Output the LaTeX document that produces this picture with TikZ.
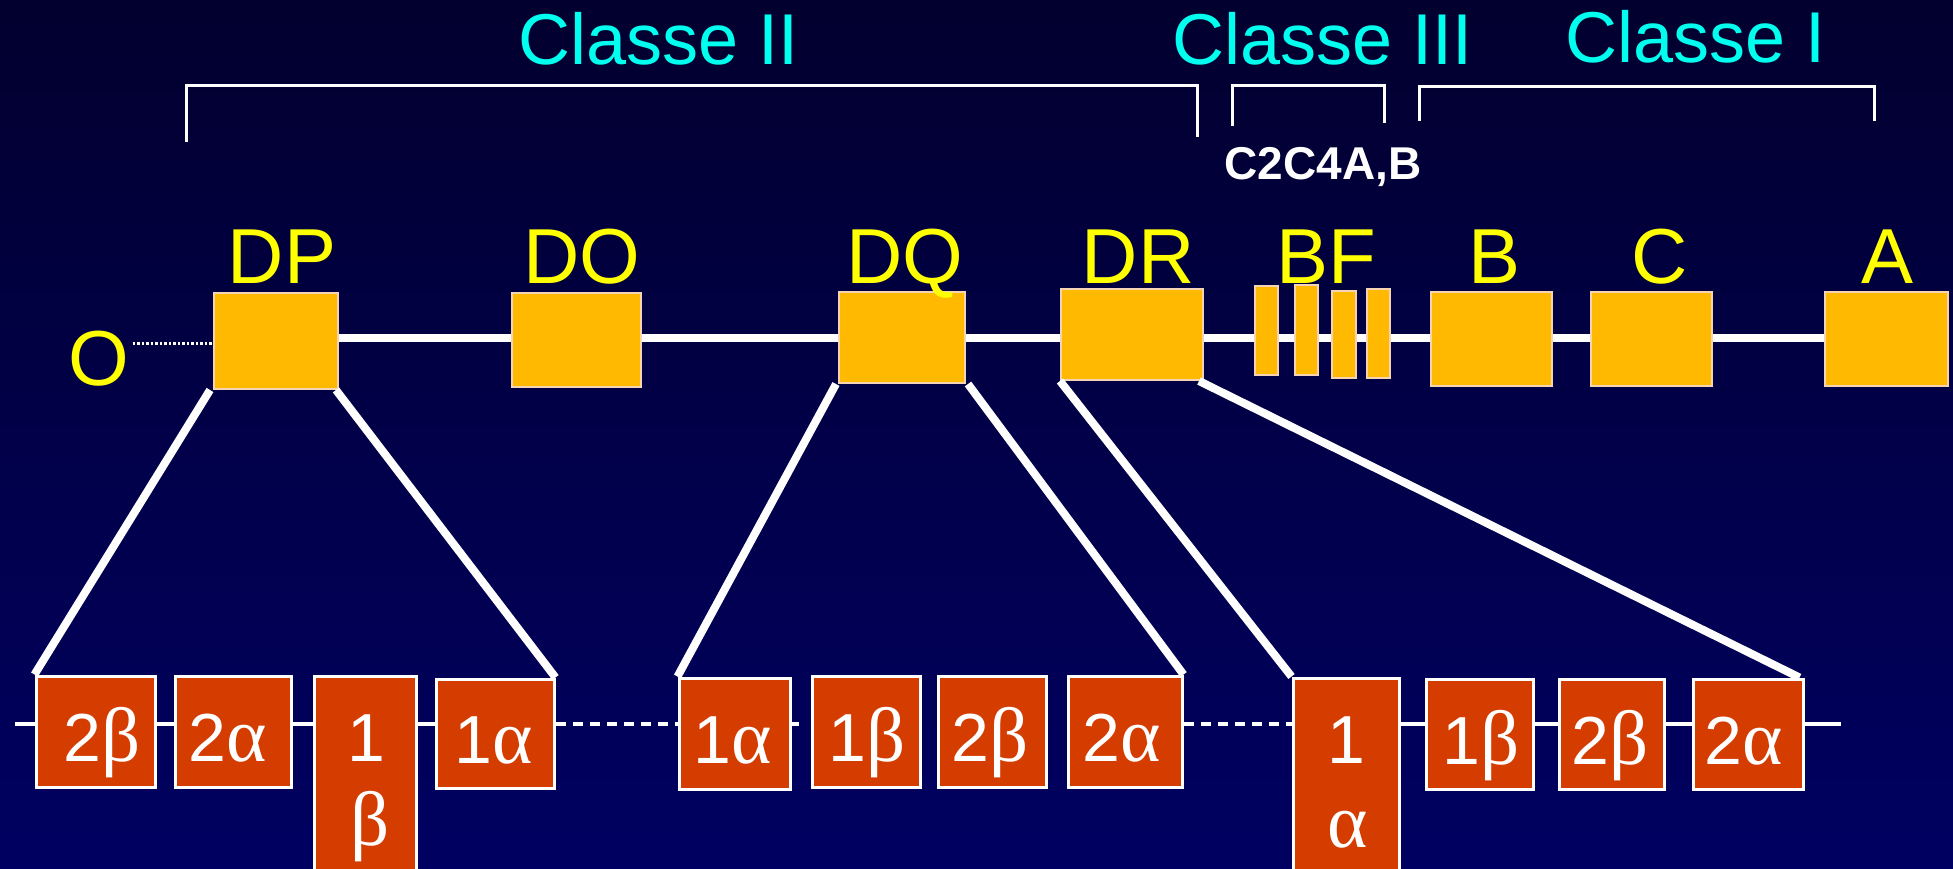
\documentclass[tikz,border=0pt]{standalone}
\usepackage{fontspec}
\setmainfont{Liberation Sans}
\newfontfamily\grkfont{Liberation Serif}
\definecolor{bgtop}{RGB}{2,0,46}
\definecolor{bgbot}{RGB}{0,0,98}
\definecolor{exony}{RGB}{255,185,0}
\definecolor{exonyb}{RGB}{245,212,180}
\definecolor{exonr}{RGB}{212,60,0}
\definecolor{classc}{RGB}{0,255,238}
\definecolor{laby}{RGB}{255,255,0}
\newcommand\GrB{{\grkfont\fontsize{77}{80}\selectfont β}}
\newcommand\GrA{{\grkfont\fontsize{77}{80}\selectfont α}}
\pgfdeclarelayer{back}
\pgfdeclarelayer{lines}
\pgfsetlayers{back,lines,main}
\begin{document}
\begin{tikzpicture}[x=1pt,y=-1pt,
  ybox/.style n args={2}{draw=exonyb,fill=exony,line width=2pt,inner sep=0pt,minimum width=#1,minimum height=#2},
  rbox/.style n args={2}{draw=white,fill=exonr,line width=3pt,inner sep=0pt,minimum width=#1,minimum height=#2},
  ylab/.style={text=laby,font=\fontsize{78}{90}\selectfont,inner sep=0pt,anchor=base},
  rlab/.style={text=white,font=\fontsize{68}{80}\selectfont,inner sep=0pt,anchor=base},
  cls/.style={text=classc,font=\fontsize{72}{86}\selectfont,inner sep=0pt,anchor=base},
  bracket/.style={white,line width=3pt},
  mainline/.style={white,line width=8pt},
  link/.style={white,line width=8pt},
  axisline/.style={white,line width=3.5pt},
  axisdash/.style={white,line width=3.5pt,dash pattern=on 10pt off 7pt},
  dotline/.style={white,line width=3pt,dash pattern=on 2.5pt off 2pt}]
\begin{pgfonlayer}{back}
\shade[top color=bgtop,bottom color=bgbot] (0,0) rectangle (1953,869);
\end{pgfonlayer}
\useasboundingbox (0,0) rectangle (1953,869);

% class labels and brackets
\node[cls] (c2) at (659,65) {Classe II};
\node[cls] (c3) at (1323,65) {Classe III};
\node[cls] (c1) at (1696,63) {Classe I};
\node[text=white,font=\bfseries\fontsize{46}{50}\selectfont,inner sep=0pt,anchor=base] (c2c4) at (1323,180) {C2C4A,B};
\draw[bracket] (186,142) -- (186,86) -- (1197,86) -- (1197,137);
\draw[bracket] (1232,126) -- (1232,86) -- (1384,86) -- (1384,123);
\draw[bracket] (1419,121) -- (1419,87) -- (1874,87) -- (1874,121);

% yellow exons
\node[ybox={124}{96}] (DP) at (276,341) {};
\node[ybox={129}{94}] (DO) at (576.5,340) {};
\node[ybox={126}{91}] (DQ) at (902,337.5) {};
\node[ybox={142}{91}] (DR) at (1132,334.5) {};
\node[ybox={23}{89}] (bf1) at (1266.5,330.5) {};
\node[ybox={23}{90}] (bf2) at (1306.5,330) {};
\node[ybox={24}{87}] (bf3) at (1344,334.5) {};
\node[ybox={23}{89}] (bf4) at (1378.5,333.5) {};
\node[ybox={121}{94}] (B) at (1491.5,339) {};
\node[ybox={121}{94}] (C) at (1651.5,339) {};
\node[ybox={123}{94}] (A) at (1886.5,339) {};

\node[ylab] (Ol) at (99,385) {O};
\node[ylab] (DPl) at (282,283) {DP};
\node[ylab] (DOl) at (582,283) {DO};
\node[ylab] (DQl) at (905,283) {DQ};
\node[ylab] (DRl) at (1138,283) {DR};
\node[ylab] (BFl) at (1326,283) {BF};
\node[ylab] (Bl) at (1494,283) {B};
\node[ylab] (Cl) at (1660,283) {C};
\node[ylab] (Al) at (1887,283) {A};

\coordinate (ax) at (0,338);
\coordinate (ox) at (0,343);
\begin{pgfonlayer}{lines}
\draw[mainline] (DP.east |- ax) -- (A.west |- ax);
\end{pgfonlayer}
\draw[dotline] ([xshift=3pt]Ol.east |- ox) -- (DP.west |- ox);

% red exons
\node[rbox={119}{111}] (r1) at (95.5,731.5) {};
\node[rbox={116}{111}] (r2) at (233,731.5) {};
\node[rbox={102}{198}] (r3) at (365,775) {};
\node[rbox={118}{109}] (r4) at (495,733.5) {};
\node[rbox={111}{111}] (r5) at (734.5,733.5) {};
\node[rbox={108}{111}] (r6) at (866,731.5) {};
\node[rbox={108}{111}] (r7) at (992,731.5) {};
\node[rbox={114}{111}] (r8) at (1125,731.5) {};
\node[rbox={106}{198}] (r9) at (1346,777) {};
\node[rbox={107}{110}] (r10) at (1479.5,734) {};
\node[rbox={105}{110}] (r11) at (1611.5,734) {};
\node[rbox={110}{110}] (r12) at (1748,734) {};

\node[rlab] (t1) at (102,761) {2\GrB};
\node[rlab] (t2) at (228,761) {2\GrA};
\node[rlab] (t3a) at (366,761) {1};
\node[rlab] (t3b) at (370,845) {\GrB};
\node[rlab] (t4) at (494,763) {1\GrA};
\node[rlab] (t5) at (733,763) {1\GrA};
\node[rlab] (t6) at (867,761) {1\GrB};
\node[rlab] (t7) at (990,761) {2\GrB};
\node[rlab] (t8) at (1122,761) {2\GrA};
\node[rlab] (t9a) at (1346,763) {1};
\node[rlab] (t9b) at (1348,847) {\GrA};
\node[rlab] (t10) at (1481,764) {1\GrB};
\node[rlab] (t11) at (1610,764) {2\GrB};
\node[rlab] (t12) at (1744,764) {2\GrA};

% baseline of the lower row
\coordinate (bx) at (0,724);
\coordinate (bstart) at (15,724);
\coordinate (bend) at (1841,724);
\begin{pgfonlayer}{lines}
\draw[axisline] (bstart) -- (r4.west |- bx);
\draw[axisdash] (r4.east |- bx) -- (r5.west |- bx);
\draw[axisline] (r5.east |- bx) -- ++(7,0);
\draw[axisdash] (r8.east |- bx) -- (r9.west |- bx);
\draw[axisline] (r9.east |- bx) -- (bend);
\end{pgfonlayer}

% zoom lines
\draw[link] ([xshift=-3pt]DP.south west) -- (r1.north west);
\draw[link] ([xshift=-3pt]DP.south east) -- (r4.north east);
\draw[link] ([xshift=-2pt]DQ.south west) -- (r5.north west);
\draw[link] ([xshift=2pt]DQ.south east) -- (r8.north east);
\draw[link] (DR.south west) -- (r9.north west);
\draw[link] ([xshift=-5pt]DR.south east) -- ([xshift=-5pt]r12.north east);
\end{tikzpicture}
\end{document}
